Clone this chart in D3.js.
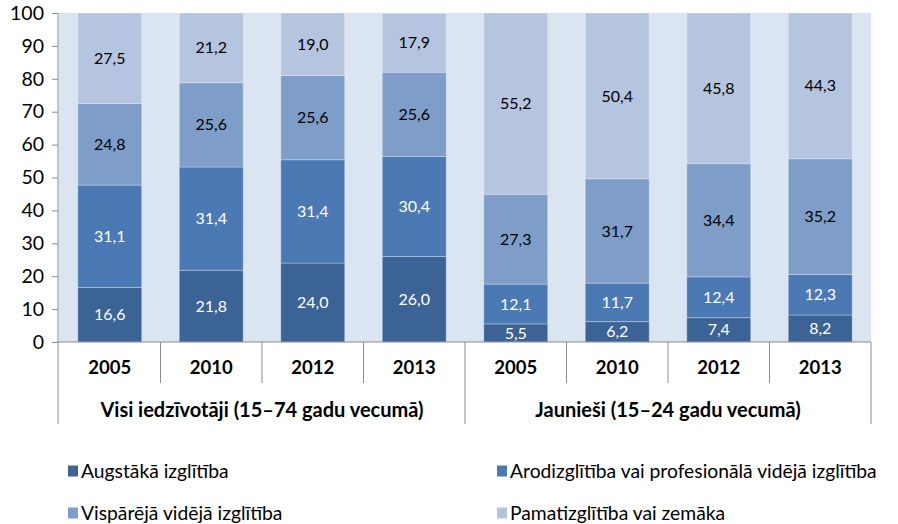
<!DOCTYPE html>
<html>
<head>
<meta charset="utf-8">
<script src="https://cdn.jsdelivr.net/npm/d3@7"></script>
<style>
  body { margin: 0; background: #fff; }
  text { font-family: Lato, "Open Sans", sans-serif; }
</style>
</head>
<body>
<svg width="898" height="524"></svg>
<script>
const years = ["2005", "2010", "2012", "2013"];
const groups = ["Visi iedzīvotāji (15–74 gadu vecumā)", "Jaunieši (15–24 gadu vecumā)"];
const seriesNames = [
	"Augstākā izglītība",
	"Arodizglītība vai profesionālā vidējā izglītība",
	"Vispārējā vidējā izglītība",
	"Pamatizglītība vai zemāka",
];
const augstaka = [16.6, 21.8, 24.0, 26.0, 5.5, 6.2, 7.4, 8.2];
const arodizglitiba = [31.1, 31.4, 31.4, 30.4, 12.1, 11.7, 12.4, 12.3];
const visparejaVideja = [24.8, 25.6, 25.6, 25.6, 27.3, 31.7, 34.4, 35.2];
const pamatizglitiba = [27.5, 21.2, 19.0, 17.9, 55.2, 50.4, 45.8, 44.3];
const yTicks = [0, 10, 20, 30, 40, 50, 60, 70, 80, 90, 100];

const colors = ["#3c6396", "#4a79b3", "#7e9dc8", "#b5c4df"];
const labelColors = ["#fff", "#fff", "#000", "#000"];

const svg = d3.select("svg");
const margin = { left: 59, right: 27, top: 13 };
const plotW = 898 - margin.left - margin.right;
const baseY = 342;
const axisColor = "#8c8c8c";

// rows for the stack, one per bar
const rows = [];
groups.forEach((g, gi) => {
	years.forEach((yr, yi) => {
		const i = gi * years.length + yi;
		rows.push({
			key: g + "|" + yr,
			year: yr,
			s0: augstaka[i],
			s1: arodizglitiba[i],
			s2: visparejaVideja[i],
			s3: pamatizglitiba[i],
		});
	});
});

const x = d3.scaleBand()
	.domain(rows.map(d => d.key))
	.range([margin.left, margin.left + plotW])
	.paddingInner(0.37)
	.paddingOuter(0.185);

const y = d3.scaleLinear().domain([0, 100]).range([baseY, margin.top]);

const stacked = d3.stack().keys(["s0", "s1", "s2", "s3"])(rows);

// plot background
svg.append("rect")
	.attr("x", margin.left)
	.attr("y", y(100))
	.attr("width", plotW)
	.attr("height", y(0) - y(100))
	.attr("fill", "#dbe5f1");

const fmt = v => d3.format(".1f")(v).replace(".", ",");
const segTop = d => y(Math.min(100, d[1]));

const layer = svg.append("g")
	.selectAll("g")
	.data(stacked)
	.enter()
	.append("g")
	.attr("fill", (d, i) => colors[i]);

layer.selectAll("rect")
	.data(d => d)
	.enter()
	.append("rect")
	.attr("x", d => x(d.data.key))
	.attr("width", x.bandwidth())
	.attr("y", segTop)
	.attr("height", d => y(d[0]) - segTop(d))
	.attr("stroke", "rgba(255,255,255,0.3)")
	.attr("stroke-width", 1);

layer.each(function(s, si) {
	d3.select(this).selectAll("text")
		.data(s)
		.enter()
		.append("text")
		.attr("x", d => x(d.data.key) + x.bandwidth() / 2)
		.attr("y", d => (y(d[0]) + segTop(d)) / 2)
		.attr("dy", "0.35em")
		.attr("text-anchor", "middle")
		.attr("font-size", 16)
		.attr("fill", labelColors[si])
		.text(d => fmt(d[1] - d[0]));
});

// y axis
const ya = svg.append("g")
	.attr("transform", `translate(${margin.left - 1},0)`)
	.call(d3.axisLeft(y).tickValues(yTicks).tickSize(6).tickPadding(8));
ya.select(".domain").remove();
ya.selectAll("line").attr("stroke", axisColor);
ya.selectAll("text")
	.attr("font-size", 19.5)
	.attr("fill", "#000")
	.attr("font-family", "Lato, sans-serif");

// y axis line, running down as the left edge of the category table
svg.append("line")
	.attr("x1", margin.left - 1).attr("x2", margin.left - 1)
	.attr("y1", y(100)).attr("y2", 424)
	.attr("stroke", axisColor);

// x baseline
svg.append("line")
	.attr("x1", margin.left - 1).attr("x2", margin.left + plotW)
	.attr("y1", baseY).attr("y2", baseY)
	.attr("stroke", axisColor);

// category separators
const bw = plotW / rows.length;
d3.range(1, rows.length + 1).forEach(i => {
	const px = margin.left + i * bw;
	const groupEdge = i % years.length === 0;
	svg.append("line")
		.attr("x1", px).attr("x2", px)
		.attr("y1", baseY).attr("y2", groupEdge ? 424 : 383)
		.attr("stroke", axisColor);
});

// year labels
svg.append("g")
	.selectAll("text")
	.data(rows)
	.enter()
	.append("text")
	.attr("x", d => x(d.key) + x.bandwidth() / 2)
	.attr("y", 368)
	.attr("dy", "0.35em")
	.attr("text-anchor", "middle")
	.attr("font-size", 18.5)
	.attr("font-weight", "bold")
	.text(d => d.year);

// group labels
svg.append("g")
	.selectAll("text")
	.data(groups)
	.enter()
	.append("text")
	.attr("x", (d, i) => margin.left + (i + 0.5) * bw * years.length)
	.attr("y", 410)
	.attr("dy", "0.35em")
	.attr("text-anchor", "middle")
	.attr("font-size", 20)
	.attr("font-weight", "bold")
	.text(d => d);

// legend
const legendPos = [[68, 471], [497, 471], [68, 513], [497, 513]];
const legend = svg.append("g")
	.selectAll("g")
	.data(seriesNames)
	.enter()
	.append("g")
	.attr("transform", (d, i) => `translate(${legendPos[i][0]},${legendPos[i][1]})`);

legend.append("rect")
	.attr("x", 0).attr("y", -5.5)
	.attr("width", 10).attr("height", 11)
	.attr("fill", (d, i) => colors[i]);

legend.append("text")
	.attr("x", 13)
	.attr("dy", "0.35em")
	.attr("font-size", 19.3)
	.text(d => d);
</script>
</body>
</html>
